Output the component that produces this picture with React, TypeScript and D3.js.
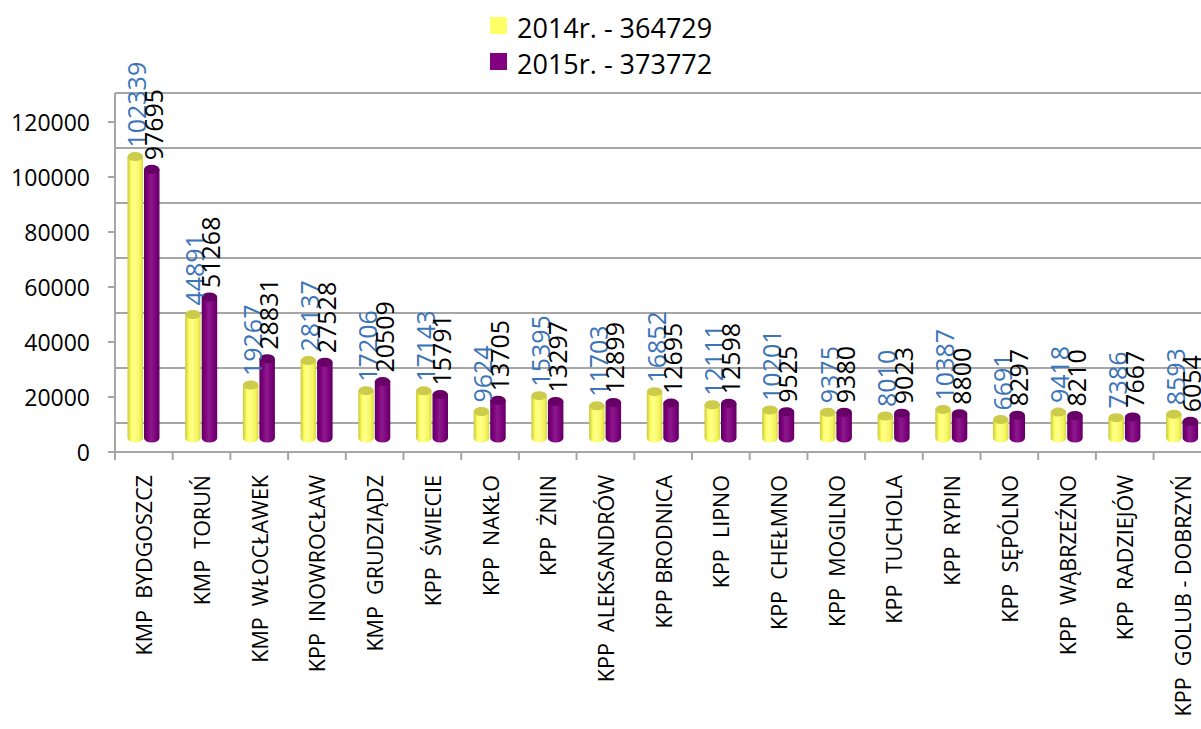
import React from 'react';
import { scaleBand, scaleLinear } from 'd3';

const categories = [
  'KMP  BYDGOSZCZ', 'KMP  TORUŃ', 'KMP  WŁOCŁAWEK', 'KPP  INOWROCŁAW', 'KMP  GRUDZIĄDZ',
  'KPP  ŚWIECIE', 'KPP  NAKŁO', 'KPP  ŻNIN', 'KPP  ALEKSANDRÓW', 'KPP BRODNICA',
  'KPP  LIPNO', 'KPP  CHEŁMNO', 'KPP  MOGILNO', 'KPP  TUCHOLA', 'KPP  RYPIN',
  'KPP  SĘPÓLNO', 'KPP  WĄBRZEŹNO', 'KPP  RADZIEJÓW', 'KPP  GOLUB - DOBRZYŃ',
];
const values2014 = [102339, 44891, 19267, 28137, 17206, 17143, 9624, 15395, 11703, 16852, 12111, 10201, 9375, 8010, 10387, 6691, 9418, 7386, 8593];
const values2015 = [97695, 51268, 28831, 27528, 20509, 15791, 13705, 13297, 12899, 12695, 12598, 9525, 9380, 9023, 8800, 8297, 8210, 7667, 6054];
const seriesNames = ['2014r. - 364729', '2015r. - 373772'];
const yTicks = [0, 20000, 40000, 60000, 80000, 100000, 120000];

const FONT = '"Open Sans", sans-serif';
const GRID = '#a6a6a6';

const App = () => {
  const W = 1201, H = 729;
  const left = 115, bandW = 57.7;
  const base = 438, wallOff = -15, frontOff = 14;

  const x = scaleBand<string>().domain(categories).range([left, left + bandW * categories.length]);
  const xSub = scaleBand<number>().domain([0, 1]).range([12, 45]);
  const y = scaleLinear().domain([0, 120000]).range([base, base - 330]);

  const series = [
    { vals: values2014, grad: 'url(#gY)', top: '#cccc4a', label: '#3b74b8', legend: '#ffff66' },
    { vals: values2015, grad: 'url(#gP)', top: '#660066', label: '#000000', legend: '#800080' },
  ];
  const cw = 15.5, ry = 4.5;

  const cylinder = (cx: number, v: number, s: typeof series[0], key: string) => {
    const x0 = cx - cw / 2, x1 = cx + cw / 2, yt = y(v);
    const d = `M${x0},${yt} L${x0},${base} A${cw / 2},${ry} 0 0 0 ${x1},${base} L${x1},${yt} Z`;
    return (
      <g key={key}>
        <path d={d} fill={s.grad} />
        <ellipse cx={cx} cy={yt} rx={cw / 2} ry={ry} fill={s.top} />
      </g>
    );
  };

  return (
    <svg width={W} height={H} style={{ position: 'absolute', left: 0, top: 0, background: '#fff' }}>
      <defs>
        <linearGradient id="gY" x1="0" x2="1" y1="0" y2="0">
          <stop offset="0" stopColor="#c9c93c" />
          <stop offset="0.25" stopColor="#ffff66" />
          <stop offset="0.45" stopColor="#ffff8c" />
          <stop offset="0.8" stopColor="#f5f55c" />
          <stop offset="1" stopColor="#d8d84a" />
        </linearGradient>
        <linearGradient id="gP" x1="0" x2="1" y1="0" y2="0">
          <stop offset="0" stopColor="#5a005a" />
          <stop offset="0.25" stopColor="#800080" />
          <stop offset="0.45" stopColor="#8c1a8c" />
          <stop offset="0.8" stopColor="#7a007a" />
          <stop offset="1" stopColor="#5e005e" />
        </linearGradient>
      </defs>

      {/* back wall gridlines */}
      {yTicks.map(t => (
        <line key={'g' + t} x1={left} x2={W} y1={y(t) + wallOff} y2={y(t) + wallOff} stroke={GRID} strokeWidth={2} />
      ))}

      {/* y axis */}
      <line x1={left} x2={left} y1={y(120000) + wallOff} y2={y(0) + frontOff} stroke={GRID} strokeWidth={2} />
      {yTicks.map(t => (
        <g key={'t' + t}>
          <line x1={left - 7} x2={left} y1={y(t) + frontOff} y2={y(t) + frontOff} stroke={GRID} strokeWidth={2} />
          <text x={90} y={y(t) + frontOff} textAnchor="end" dominantBaseline="central"
            fontFamily={FONT} fontSize={23} fill="#000">{t}</text>
        </g>
      ))}

      {/* x axis */}
      <line x1={left} x2={W} y1={y(0) + frontOff} y2={y(0) + frontOff} stroke={GRID} strokeWidth={2} />
      {categories.map(c => (
        <line key={'xt' + c} x1={x(c)!} x2={x(c)!} y1={y(0) + frontOff} y2={y(0) + frontOff + 8} stroke={GRID} strokeWidth={2} />
      ))}
      {categories.map(c => {
        const cx = x(c)! + x.bandwidth() / 2;
        return (
          <text key={'xl' + c} transform={`translate(${cx},475) rotate(-90)`} textAnchor="end"
            dominantBaseline="central" fontFamily={FONT} fontSize={21.5} fill="#000"
            style={{ whiteSpace: 'pre' }}>{c}</text>
        );
      })}

      {/* bars */}
      {categories.map((c, i) => (
        <g key={'b' + c}>
          {series.map((s, k) => cylinder(x(c)! + xSub(k)! + xSub.bandwidth() / 2, s.vals[i], s, c + k))}
        </g>
      ))}

      {/* data labels */}
      {series.map((s, k) => categories.map((c, i) => {
        const cx = x(c)! + xSub(k)! + xSub.bandwidth() / 2 + 1;
        return (
          <text key={'dl' + k + c} transform={`translate(${cx},${y(s.vals[i]) - 9}) rotate(-90)`}
            dominantBaseline="central" fontFamily={FONT} fontSize={25} fill={s.label}>{s.vals[i]}</text>
        );
      }))}

      {/* legend */}
      {seriesNames.map((n, k) => (
        <g key={'lg' + n} transform={`translate(490,${17 + k * 36})`}>
          <rect x={0} y={0} width={17} height={17} fill={series[k].legend} />
          <text x={27} y={10} dominantBaseline="central" fontFamily={FONT} fontSize={27} fill="#000">{n}</text>
        </g>
      ))}
    </svg>
  );
};

export default App;
